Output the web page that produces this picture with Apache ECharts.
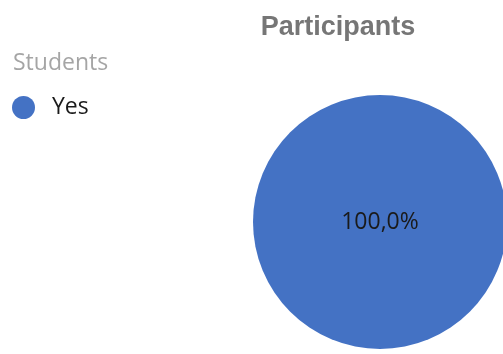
<!DOCTYPE html>
<html>
<head>
<meta charset="utf-8">
<script src="https://cdn.jsdelivr.net/npm/echarts@6/dist/echarts.min.js"></script>
<style>
  html, body { margin: 0; padding: 0; background: #fff; }
  #chart { width: 503px; height: 354px; }
</style>
</head>
<body>
<div id="chart"></div>
<script>
// Share of participating students
const categories = ['Yes'];
const values = [100];
const chartTitle = 'Participants';
const legendTitle = 'Students';

const chart = echarts.init(document.getElementById('chart'), null, { renderer: 'canvas' });

chart.setOption({
  animation: false,
  color: ['#4472C4'],
  title: [
    {
      text: chartTitle,
      left: 333,
      top: 9,
      textAlign: 'center',
      textStyle: { fontFamily: 'Liberation Sans, Arial, sans-serif', fontWeight: 'bold', fontSize: 27, color: '#767676' }
    },
    {
      text: legendTitle,
      left: 8,
      top: 47,
      textStyle: { fontFamily: 'Open Sans, Noto Sans, sans-serif', fontWeight: 'normal', fontSize: 23, color: '#a5a5a5' }
    }
  ],
  legend: {
    orient: 'vertical',
    left: 12,
    top: 96,
    padding: 0,
    icon: 'circle',
    itemWidth: 23,
    itemHeight: 23,
    itemGap: 10,
    textStyle: { fontFamily: 'Open Sans, Noto Sans, sans-serif', fontSize: 23, color: '#1a1a1a', padding: [0, 0, 0, 12] },
    data: categories
  },
  series: [
    {
      type: 'pie',
      center: [380, 222],
      radius: 127,
      startAngle: 90,
      label: {
        show: true,
        position: 'center',
        fontFamily: 'Open Sans, Noto Sans, sans-serif',
        fontSize: 23,
        color: '#1a1a1a',
        formatter: p => p.percent.toFixed(1).replace('.', ',') + '%'
      },
      labelLine: { show: false },
      emphasis: { disabled: true },
      data: categories.map((c, i) => ({ name: c, value: values[i] }))
    }
  ]
});
</script>
</body>
</html>
